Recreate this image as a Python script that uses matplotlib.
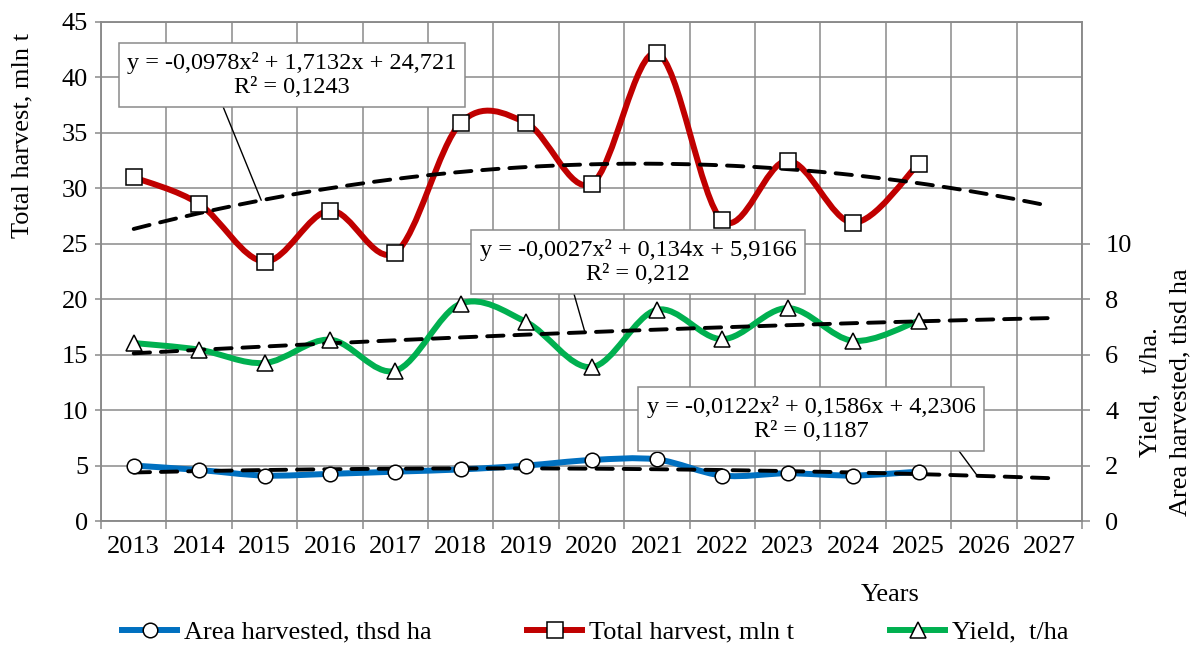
import numpy as np
import matplotlib.pyplot as plt
from matplotlib.path import Path
from matplotlib.patches import PathPatch
from matplotlib.lines import Line2D

plt.rcParams['font.family'] = ['Liberation Serif', 'DejaVu Serif']
plt.rcParams['font.size'] = 19

# data
years = list(range(2013, 2028))
total_harvest = [31.0, 28.6, 23.4, 28.0, 24.2, 35.9, 35.9, 30.4, 42.2, 27.1, 32.5, 26.9, 32.2]
yield_t_ha = [6.42, 6.18, 5.70, 6.54, 5.42, 7.84, 7.18, 5.55, 7.62, 6.56, 7.68, 6.50, 7.22]
area_harvested = [5.0, 4.6, 4.1, 4.25, 4.45, 4.65, 5.0, 5.5, 5.55, 4.1, 4.3, 4.1, 4.45]

# polynomial trend coefficients shown on the chart (x = 1 for 2013)
total_trend = [-0.0978, 1.7132, 24.721]
yield_trend = [-0.0027, 0.134, 5.9166]
area_trend = [-0.0122, 0.1586, 4.2306]
total_label = "y = -0,0978x\u00b2 + 1,7132x + 24,721\nR\u00b2 = 0,1243"
yield_label = "y = -0,0027x\u00b2 + 0,134x + 5,9166\nR\u00b2 = 0,212"
area_label = "y = -0,0122x\u00b2 + 0,1586x + 4,2306\nR\u00b2 = 0,1187"

RED = '#C00000'
GREEN = '#00B050'
BLUE = '#0070C0'
GRID = '#8a8a8a'


def smooth_path(xs, ys):
    # Excel-like smoothed line as cubic Bezier segments
    p = np.column_stack([xs, ys]).astype(float)
    q = np.vstack([p[0], p, p[-1]])
    verts = [p[0]]
    codes = [Path.MOVETO]
    for i in range(len(p) - 1):
        p0, p1, p2, p3 = q[i], q[i + 1], q[i + 2], q[i + 3]
        verts += [p1 + (p2 - p0) / 6, p2 - (p3 - p1) / 6, p2]
        codes += [Path.CURVE4] * 3
    return Path(verts, codes)


fig = plt.figure(figsize=(11.92, 6.48), dpi=100)
ax = fig.add_axes([101 / 1192, 127 / 648, 981 / 1192, 499 / 648])
ax2 = ax.twinx()
ax2.patch.set_visible(False)

x = np.arange(len(years))
xd = x[:len(total_harvest)]

ax.set_xlim(-0.5, len(years) - 0.5)
ax.set_ylim(0, 45)
ax.set_yticks(np.arange(0, 46, 5))
ax.set_xticks(x)
ax.set_xticklabels([str(y) for y in years])
ax.set_xticks(np.arange(-0.5, len(years), 1), minor=True)
ax.tick_params(axis='x', which='major', length=0, pad=11)
ax.tick_params(axis='x', which='minor', length=5.8, width=1.1, color=GRID)
ax.tick_params(axis='y', length=4.3, width=1.1, color=GRID, pad=5)
ax.grid(True, axis='x', which='minor', color=GRID, lw=1.1)
ax.grid(True, axis='y', which='major', color=GRID, lw=1.1)
ax.set_axisbelow(True)

ax2.set_ylim(0, 18)
ax2.set_yticks(np.arange(0, 11, 2))
ax2.tick_params(axis='y', length=5.8, width=1.1, color=GRID, pad=11)
for a in (ax, ax2):
    for s in a.spines.values():
        s.set_color(GRID)
        s.set_linewidth(1.1)

# smoothed series lines
ax.add_patch(PathPatch(smooth_path(xd, total_harvest), fc='none', ec=RED, lw=4.3,
                       capstyle='round', joinstyle='round', zorder=3))
ax.add_patch(PathPatch(smooth_path(xd, area_harvested), fc='none', ec=BLUE, lw=4.3,
                       capstyle='round', joinstyle='round', zorder=3))
ax2.add_patch(PathPatch(smooth_path(xd, yield_t_ha), fc='none', ec=GREEN, lw=4.3,
                        capstyle='round', joinstyle='round', zorder=3))

# trend lines
t = np.linspace(1, len(years), 300)
dash = dict(color='black', lw=2.8, ls=(0, (4.2, 2.8)), dash_capstyle='round', zorder=4)
ax.plot(t - 1, np.polyval(total_trend, t), **dash)
ax.plot(t - 1, np.polyval(area_trend, t), **dash)
ax2.plot(t - 1, np.polyval(yield_trend, t), **dash)

# markers
mk = dict(ls='none', mfc='white', mec='black', mew=1.1, zorder=6)
ax.plot(xd, total_harvest, marker='s', ms=11, **mk)
ax.plot(xd, area_harvested, marker='o', ms=10.5, **mk)
ax2.plot(xd, yield_t_ha, marker='^', ms=11.5, **mk)

# equation boxes
box = dict(boxstyle='square,pad=0.35', fc='white', ec=GRID, lw=1.1)


def eq_box(text, xc, coef, target_ax, pos, rel):
    ax2.annotate(text, xy=(xc, np.polyval(coef, xc + 1)), xycoords=target_ax.transData,
                 xytext=pos, textcoords='figure pixels', ha='center', va='center',
                 ma='center', fontsize=17.5, bbox=box, zorder=8,
                 arrowprops=dict(arrowstyle='-', color='black', lw=1.0, relpos=rel,
                                 shrinkA=0, shrinkB=0))


eq_box(total_label, 1.95, total_trend, ax, (292, 573), (0.28, 0))
eq_box(yield_label, 6.9, yield_trend, ax2, (638, 386), (0.29, 0))
eq_box(area_label, 12.9, area_trend, ax, (811, 229), (0.93, 0))

# axis titles
fig.text(22 / 1192, 512 / 648, "Total harvest, mln t", rotation=90, ha='center', va='center')
fig.text(1150 / 1192, 256 / 648, "Yield,   t/ha.", rotation=90, ha='center', va='center')
fig.text(1180 / 1192, 256 / 648, "Area harvested, thsd ha", rotation=90, ha='center', va='center')
fig.text(890 / 1192, 53 / 648, "Years", ha='center', va='center')

mk_leg = dict(mfc='white', mec='black', mew=1.1)
handles = [
    Line2D([], [], color=BLUE, lw=4.3, marker='o', ms=10.5, **mk_leg),
    Line2D([], [], color=RED, lw=4.3, marker='s', ms=11, **mk_leg),
    Line2D([], [], color=GREEN, lw=4.3, marker='^', ms=11.5, **mk_leg),
]
labels = ["Area harvested, thsd ha", "Total harvest, mln t", "Yield,  t/ha"]
for h, lab, x0 in zip(handles, labels, [122, 527, 890]):
    fig.legend([h], [lab], loc='center left', bbox_to_anchor=(x0 / 1192, 16 / 648),
               frameon=False, handlelength=2.1, handletextpad=0.25,
               borderaxespad=0, borderpad=0, fontsize=19)

fig.savefig('out.png', dpi=100)
